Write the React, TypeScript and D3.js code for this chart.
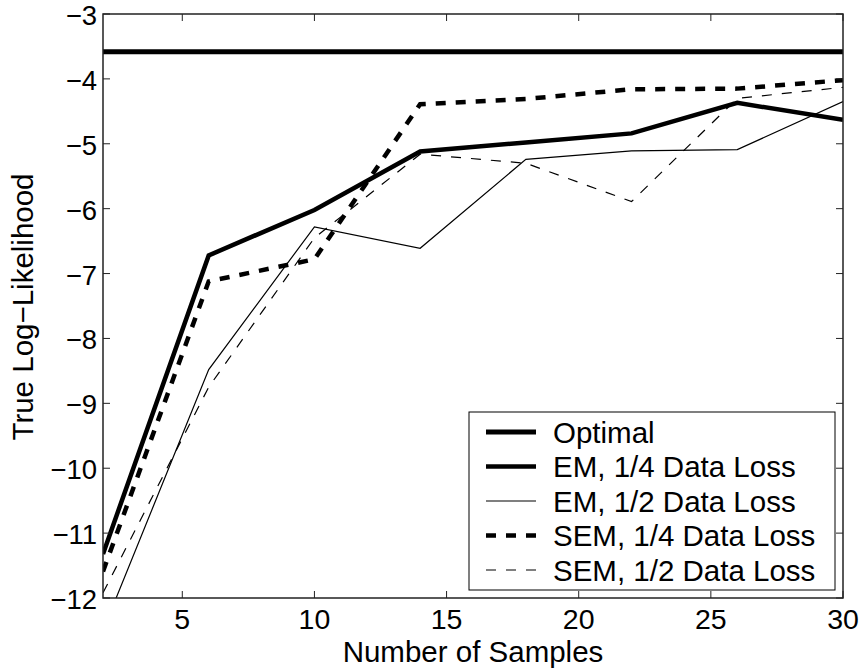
import React from "react";
import * as d3 from "d3";

const samples = [2, 6, 10, 14, 18, 22, 26, 30];
const optimal = [-3.58, -3.58, -3.58, -3.58, -3.58, -3.58, -3.58, -3.58];
const em14 = [-11.32, -6.72, -6.02, -5.12, -4.98, -4.84, -4.37, -4.63];
const em12 = [-12.5, -8.48, -6.28, -6.61, -5.24, -5.11, -5.09, -4.35];
const sem14 = [-11.59, -7.12, -6.78, -4.39, -4.31, -4.16, -4.15, -4.02];
const sem12 = [-11.92, -8.75, -6.45, -5.16, -5.3, -5.89, -4.3, -4.13];

const xTicks = [5, 10, 15, 20, 25, 30];
const yTicks = [-3, -4, -5, -6, -7, -8, -9, -10, -11, -12];

const seriesNames = [
  "Optimal",
  "EM, 1/4 Data Loss",
  "EM, 1/2 Data Loss",
  "SEM, 1/4 Data Loss",
  "SEM, 1/2 Data Loss",
];
const seriesValues = [optimal, em14, em12, sem14, sem12];
const seriesStyles = [
  { w: 5, dash: "" },
  { w: 4.5, dash: "" },
  { w: 1.2, dash: "" },
  { w: 4.5, dash: "10,10" },
  { w: 1.2, dash: "10,10" },
];

const W = 863;
const H = 669;
const L = 103, R = 843, T = 14, B = 598;
const FONT = "'Liberation Sans', Arial, Helvetica, sans-serif";
const FS_TICK = 28.5;
const FS_YTICK = 27.5;
const FS_LABEL = 29.5;

export default function App() {
  const x = d3.scaleLinear().domain([2, 30]).range([L, R]);
  const y = d3.scaleLinear().domain([-12, -3]).range([B, T]);
  const line = d3
    .line<[number, number]>()
    .x((d) => x(d[0]))
    .y((d) => y(d[1]));

  const tickLen = 7;
  const legend = { x0: 469, x1: 835, y0: 412, y1: 590 };
  const rowY = (i: number) => 432 + i * 34.5;

  return (
    <svg
      width={W}
      height={H}
      style={{ position: "absolute", left: 0, top: 0, background: "#fff" }}
      fontFamily={FONT}
    >
      <defs>
        <clipPath id="plotclip">
          <rect x={L} y={T} width={R - L} height={B - T} />
        </clipPath>
      </defs>
      <rect x={0} y={0} width={W} height={H} fill="#fff" />

      <g clipPath="url(#plotclip)">
        {seriesValues.map((vals, i) => (
          <path
            key={i}
            d={line(samples.map((s, j) => [s, vals[j]] as [number, number])) || ""}
            fill="none"
            stroke="#000"
            strokeWidth={seriesStyles[i].w}
            strokeDasharray={seriesStyles[i].dash || undefined}
            strokeLinejoin="miter"
          />
        ))}
      </g>

      {/* frame */}
      <rect x={L} y={T} width={R - L} height={B - T} fill="none" stroke="#222" strokeWidth={1.5} />

      {/* x ticks */}
      {xTicks.map((t) => (
        <g key={"x" + t}>
          <line x1={x(t)} x2={x(t)} y1={B} y2={B - tickLen} stroke="#222" strokeWidth={1} />
          <line x1={x(t)} x2={x(t)} y1={T} y2={T + tickLen} stroke="#222" strokeWidth={1} />
          <text x={x(t)} y={629} textAnchor="middle" fontSize={FS_TICK} fill="#000">
            {t}
          </text>
        </g>
      ))}

      {/* y ticks */}
      {yTicks.map((t) => (
        <g key={"y" + t}>
          <line x1={L} x2={L + tickLen} y1={y(t)} y2={y(t)} stroke="#222" strokeWidth={1} />
          <line x1={R} x2={R - tickLen} y1={y(t)} y2={y(t)} stroke="#222" strokeWidth={1} />
          <text x={97} y={y(t) + 11} textAnchor="end" fontSize={FS_YTICK} fill="#000">
            {"\u2212" + Math.abs(t)}
          </text>
        </g>
      ))}

      {/* axis labels */}
      <text x={(L + R) / 2} y={662} textAnchor="middle" fontSize={FS_LABEL} fill="#000">
        Number of Samples
      </text>
      <text
        transform={`translate(33, ${(T + B) / 2 + 1}) rotate(-90)`}
        textAnchor="middle"
        fontSize={FS_LABEL}
        fill="#000"
      >
        True Log{"\u2212"}Likelihood
      </text>

      {/* legend */}
      <rect
        x={legend.x0}
        y={legend.y0}
        width={legend.x1 - legend.x0}
        height={legend.y1 - legend.y0}
        fill="#fff"
        stroke="#000"
        strokeWidth={1}
      />
      {seriesNames.map((name, i) => (
        <g key={"lg" + i}>
          <line
            x1={486}
            x2={536}
            y1={rowY(i)}
            y2={rowY(i)}
            stroke="#000"
            strokeWidth={seriesStyles[i].w}
            strokeDasharray={seriesStyles[i].dash || undefined}
          />
          <text x={553} y={rowY(i) + 10.5} fontSize={FS_LABEL} fill="#000">
            {name}
          </text>
        </g>
      ))}
    </svg>
  );
}
